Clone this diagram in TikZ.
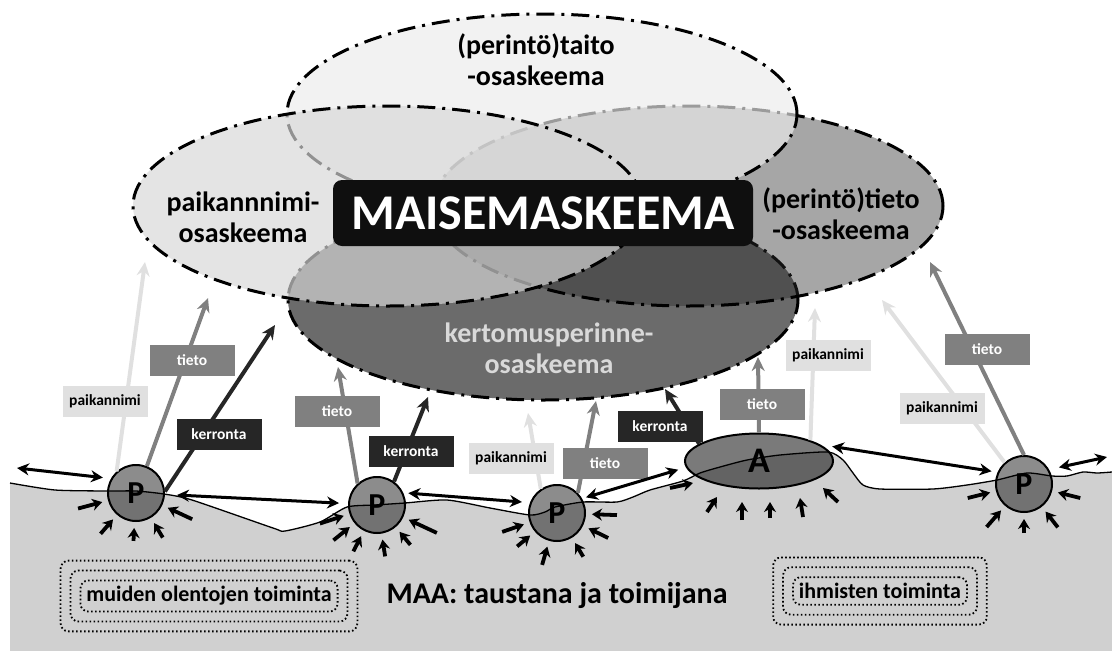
\documentclass[tikz,border=0pt]{standalone}
\usepackage{fontspec}
\setmainfont{Carlito}
\usetikzlibrary{arrows.meta, calc, fit, shapes.geometric}
\definecolor{groundgray}{HTML}{D0D0D0}
\definecolor{namegray}{HTML}{E0E0E0}
\definecolor{infogray}{HTML}{808080}
\definecolor{tellgray}{HTML}{262626}
\definecolor{storygray}{HTML}{D9D9D9}
\definecolor{storyfill}{HTML}{6B6B6B}
\definecolor{knowfill}{HTML}{2B2B2B}
\definecolor{skillfill}{HTML}{ECECEC}
\definecolor{placefill}{HTML}{D7D7D7}
\tikzset{
    schema/.style={draw=black, line width=3pt, dash pattern=on 18pt off 7pt on 3pt off 7pt},
    schemetext/.style={align=center, font=\fontsize{28}{31}\selectfont\bfseries},
    titlebox/.style={rectangle, rounded corners=9pt, fill=black!94, text=white, minimum width=420pt, minimum height=66pt, inner sep=0pt, font=\fontsize{50}{50}\selectfont\bfseries},
    flowtag/.style={rectangle, minimum width=85pt, minimum height=31pt, inner sep=2pt, font=\fontsize{15.5}{18}\selectfont\bfseries},
    nametag/.style={flowtag, fill=namegray, text=black},
    infotag/.style={flowtag, fill=infogray, text=white},
    telltag/.style={flowtag, fill=tellgray, text=white},
    rise/.style={line width=4pt, -{Stealth[length=14pt, width=13pt]}},
    namerise/.style={rise, draw=namegray},
    inforise/.style={rise, draw=infogray},
    tellrise/.style={rise, draw=tellgray},
    dbl/.style={line width=3pt, {Stealth[length=12pt, width=12pt]}-{Stealth[length=12pt, width=12pt]}},
    push/.style={line width=3.8pt, -{Stealth[length=10pt, width=12pt]}},
    site/.style={circle, draw=black, line width=2pt, minimum size=56pt, inner sep=0pt, fill=black, fill opacity=0.45, text opacity=1, font=\fontsize{32}{32}\selectfont\bfseries},
    spot/.style={ellipse, draw=black, line width=2pt, minimum width=148pt, minimum height=55pt, inner sep=0pt, fill=black, fill opacity=0.52, text opacity=1, font=\fontsize{36}{36}\selectfont\bfseries},
    ring/.style={draw=black, line width=1.8pt, dash pattern=on 1.6pt off 2.4pt, rounded corners=8pt}
}

\begin{document}
\begin{tikzpicture}[x=1pt, y=-1pt]
    \useasboundingbox (0,0) rectangle (1112,651);

    % --- Schema ellipses ---
    \foreach \cx/\cy/\col/\op in {543/300/storyfill/1, 688/206/knowfill/0.42, 542/114/skillfill/0.66, 388/206/placefill/0.676} {
        \fill[fill=\col, fill opacity=\op] (\cx,\cy) ellipse [x radius=255pt, y radius=100pt];
        \draw[schema] (\cx,\cy) ellipse [x radius=255pt, y radius=100pt];
    }

    % --- Schema texts ---
    \node[titlebox] (title) at (543,213) {MAISEMASKEEMA};
    \node[schemetext] (placetext) at (243,217) {paikannnimi-\\osaskeema};
    \node[schemetext] (skilltext) at (536,60) {(perintö)taito\\-osaskeema};
    \node[schemetext] (knowtext) at (841,214) {(perintö)tieto\\-osaskeema};
    \node[schemetext, text=storygray] (storytext) at (549,348) {kertomusperinne-\\osaskeema};

    % --- Ground ---
    \fill[groundgray] plot[smooth, tension=0.4] coordinates {(10,483) (55,490) (108,491) (136,491) (164,494) (192,500) (273,528) (285,531) (320,522) (347,507) (375,505) (405,503) (447,500) (490,508) (530,515) (545,512) (555,507) (583,502) (617,502) (633,497) (650,490) (683,481) (700,473) (720,467) (747,460) (780,455) (828,452) (843,460) (853,473) (863,485) (880,489) (933,489) (967,485) (997,480) (1027,473) (1052,476) (1067,476) (1083,472) (1097,473) (1112,472)} -- (1112,651) -- (10,651) -- cycle;
    \draw[line width=1.3pt] plot[smooth, tension=0.4] coordinates {(10,483) (55,490) (108,491) (136,491) (164,494) (192,500) (273,528) (285,531) (320,522) (347,507) (375,505) (405,503) (447,500) (490,508) (530,515) (545,512) (555,507) (583,502) (617,502) (633,497) (650,490) (683,481) (700,473) (720,467) (747,460) (780,455) (828,452) (843,460) (853,473) (863,485) (880,489) (933,489) (967,485) (997,480) (1027,473) (1052,476) (1067,476) (1083,472) (1097,473) (1112,472)};

    % --- Places ---
    \node[site] (p1) at (136,493) {P};
    \node[site] (p2) at (377,505) {P};
    \node[site] (p3) at (557,513) {P};
    \node[spot] (a) at (759,461) {A};
    \node[site] (p4) at (1024,484) {P};

    % --- Arrows up to the schemas ---
    \coordinate (p1name) at (145,262);
    \coordinate (p1info) at (208,298);
    \coordinate (p1tell) at (275,325);
    \coordinate (p2info) at (338,367);
    \coordinate (p2tell) at (428,397);
    \coordinate (p3name) at (528,413);
    \coordinate (p3info) at (596,401);
    \coordinate (atell) at (665,389);
    \coordinate (ainfo) at (758,357);
    \coordinate (aname) at (815,308);
    \coordinate (p4name) at (882,300);
    \coordinate (p4info) at (930,262);

    \draw[namerise] (p1.132) -- (p1name);
    \draw[inforise] (p1.68) -- (p1info);
    \draw[tellrise] (p1.3) -- (p1tell);
    \draw[inforise] (p2.132) -- (p2info);
    \draw[tellrise] (p2.54) -- (p2tell);
    \draw[namerise] (p3.124) -- (p3name);
    \draw[inforise] (p3.44) -- (p3info);
    \draw[tellrise] (a.164) -- (atell);
    \draw[inforise] (a.north) -- (ainfo);
    \draw[namerise] (a.22) -- (aname);
    \draw[namerise] (p4.132) -- (p4name);
    \draw[inforise] (p4.north) -- (p4info);

    % --- Labels ---
    \node[nametag] (p1namelab) at (105,401) {paikannimi};
    \node[infotag] (p1infolab) at (192,360) {tieto};
    \node[telltag] (p1telllab) at (219,434) {kerronta};
    \node[infotag] (p2infolab) at (337,411) {tieto};
    \node[telltag] (p2telllab) at (411,451) {kerronta};
    \node[nametag] (p3namelab) at (511,458) {paikannimi};
    \node[infotag] (p3infolab) at (605,463) {tieto};
    \node[telltag] (atelllab) at (660,426) {kerronta};
    \node[infotag] (ainfolab) at (762,404) {tieto};
    \node[nametag] (anamelab) at (828,355) {paikannimi};
    \node[nametag] (p4namelab) at (942,408) {paikannimi};
    \node[infotag] (p4infolab) at (987,349) {tieto};

    % --- Links along the ground ---
    \coordinate (edgeL) at (17,468);
    \coordinate (edgeR) at (1107,457);
    \draw[dbl, shorten >=8pt] (edgeL) -- (p1.150);
    \draw[dbl, shorten <=12pt, shorten >=9pt] (p1) -- (p2);
    \draw[dbl, shorten <=5pt, shorten >=8pt] (p2.25) -- (p3.159);
    \draw[dbl, shorten <=4pt, shorten >=8pt] (p3.30) -- (a.185);
    \draw[dbl, shorten <=12pt, shorten >=6pt] (a.15) -- (p4.156);
    \draw[dbl, shorten <=10pt] (p4.30) -- (edgeR);

    % --- Pushes from the ground ---
    \foreach \ang/\len in {165/60, 131/54, 93/48, 59/52, 25/62}
        \draw[push] ($(p1)+(\ang:\len)$) -- ($(p1)+(\ang:35)$);
    \foreach \ang/\len in {162/60, 141/56, 117/52, 81/52, 50/52, 25/66}
        \draw[push] ($(p2)+(\ang:\len)$) -- ($(p2)+(\ang:35)$);
    \foreach \ang/\len in {161/58, 140/52, 106/54, 59/51, 26/57, 2/60}
        \draw[push] ($(p3)+(\ang:\len)$) -- ($(p3)+(\ang:35)$);
    \foreach \ang/\len in {166/58, 131/57, 90/49, 52/55, 14/58}
        \draw[push] ($(p4)+(\ang:\len)$) -- ($(p4)+(\ang:35)$);
    \foreach \sx/\sy/\ex/\ey in {-89/27/-66/22, -52/51/-42/36, -17/59/-17/41, 11/57/11/41, 44/56/41/37, 79/41/64/27}
        \draw[push] ($(a)+(\sx,\sy)$) -- ($(a)+(\ex,\ey)$);

    % --- Actors ---
    \node[ring, inner sep=6pt, font=\fontsize{22}{26}\selectfont\bfseries] (others) at (209,596) {muiden olentojen toiminta};
    \node[ring, fit=(others), inner sep=9pt] (othersmid) {};
    \node[ring, fit=(othersmid), inner sep=9pt] (othersout) {};
    \node[ring, inner sep=6pt, font=\fontsize{22}{26}\selectfont\bfseries] (humans) at (880,591) {ihmisten toiminta};
    \node[ring, fit=(humans), inner sep=9pt] (humansmid) {};
    \node[ring, fit=(humansmid), inner sep=9pt] (humansout) {};

    \node[anchor=base, font=\fontsize{30}{36}\selectfont\bfseries] (land) at (557,603) {MAA: taustana ja toimijana};
\end{tikzpicture}
\end{document}
